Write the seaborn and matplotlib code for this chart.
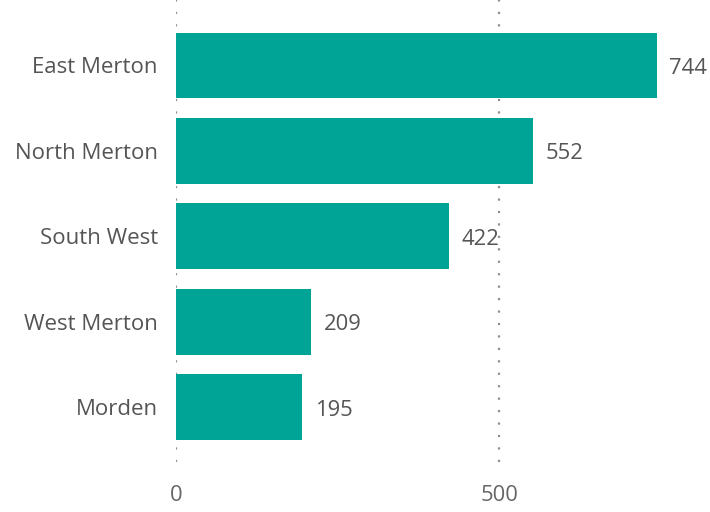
import matplotlib
matplotlib.use("Agg")
import matplotlib.pyplot as plt
import seaborn as sns
import pandas as pd

areas = ["East Merton", "North Merton", "South West", "West Merton", "Morden"]
counts = [744, 552, 422, 209, 195]
x_ticks = [0, 500]

df = pd.DataFrame({"area": areas, "count": counts})

sns.set_theme(style="white")
plt.rcParams["font.family"] = ["Open Sans", "DejaVu Sans"]

fig = plt.figure(figsize=(7.1, 5.12), dpi=100)
ax = fig.add_axes([0.2479, 0.0977, 0.7521, 0.9023])

sns.barplot(data=df, y="area", x="count", color="#00A497", saturation=1,
            width=0.77, ax=ax, zorder=3)

for p in ax.patches:
    p.set_edgecolor("none")

for xv in x_ticks:
    ax.axvline(xv, color="#909090", linestyle=(0, (1, 4.6)), linewidth=1.6, zorder=1)

for i, v in enumerate(counts):
    ax.annotate(f"{v}", xy=(v, i), xytext=(9, -2), textcoords="offset points",
                va="center", ha="left", fontsize=15.8, color="#555555")

ax.set_xlim(0, 826)
ax.set_ylim(4.64, -0.766)
ax.set_xticks(x_ticks)
ax.set_xticklabels([str(t) for t in x_ticks])
ax.tick_params(axis="x", length=0, pad=16.5, labelsize=15.8, labelcolor="#666666")
ax.tick_params(axis="y", length=0, pad=13, labelsize=16, labelcolor="#555555")
ax.set_xlabel("")
ax.set_ylabel("")
for s in ax.spines.values():
    s.set_visible(False)

fig.savefig("out.png", dpi=100)
